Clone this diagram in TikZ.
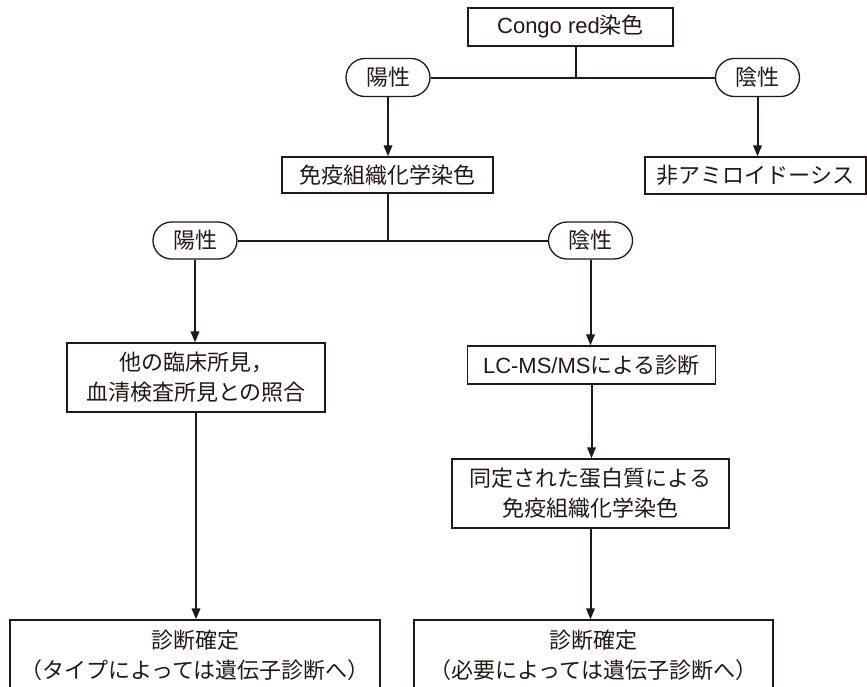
\documentclass[tikz,border=0pt]{standalone}
\usepackage{fontspec}
\setmainfont{Noto Sans CJK JP}
\newfontfamily\lat{Liberation Sans}
\usetikzlibrary{arrows.meta,shapes.misc}
\definecolor{ink}{HTML}{231815}
\begin{document}
\begin{tikzpicture}[x=1pt,y=-1pt,
  every node/.style={font=\fontsize{22}{30}\selectfont, text=ink, inner sep=0pt, align=center},
  box/.style={draw=ink, line width=1.3pt},
  pill/.style={rounded rectangle, draw=ink, line width=1.3pt, minimum width=84pt, minimum height=38pt},
  conn/.style={draw=ink, line width=2pt},
  arr/.style={conn, -{Triangle[length=11pt,width=8.5pt]}}]
\useasboundingbox (0,0) rectangle (867,686);
\fill[white] (0,0) rectangle (867,686);
% row 1
\node[box, minimum width=205pt, minimum height=38pt] (cr) at (570.5,27) {{\lat Congo red}染色};
\node[pill] (pos1) at (388,77.5) {陽性};
\node[pill] (neg1) at (757.5,77.5) {陰性};
\coordinate (j1) at (576,77.5);
% row 2
\node[box, minimum width=211pt, minimum height=36pt] (ifc) at (387.5,175) {免疫組織化学染色};
\node[box, minimum width=221pt, minimum height=37pt] (non) at (755.5,175.5) {非アミロイドーシス};
\coordinate (j2) at (388,240);
\node[pill, minimum height=37pt] (pos2) at (195,240.5) {陽性};
\node[pill, minimum height=37pt] (neg2) at (590.5,240.5) {陰性};
% row 3
\node[box, minimum width=258pt, minimum height=69pt] (oth) at (196,377.5) {他の臨床所見，\\血清検査所見との照合};
\node[box, minimum width=248pt, minimum height=38pt] (lcms) at (591.5,365) {{\lat LC-MS/MS}による診断};
\node[box, minimum width=277pt, minimum height=69pt] (idt) at (590.5,493.5) {同定された蛋白質による\\免疫組織化学染色};
% row 4
\node[box, minimum width=370pt, minimum height=70pt] (d1) at (195,655) {診断確定\\（タイプによっては遺伝子診断へ）};
\node[box, minimum width=359pt, minimum height=70pt] (d2) at (593.5,655) {診断確定\\（必要によっては遺伝子診断へ）};
% connectors
\draw[conn] (cr.south -| j1) -- (j1);
\draw[conn] (pos1.east) -- (neg1.west);
\draw[arr] (pos1.south) -- (pos1.south |- ifc.north);
\draw[arr] (neg1.south) -- (neg1.south |- non.north);
\draw[conn] (ifc.south -| j2) -- (j2);
\draw[conn] (pos2.east) -- (neg2.west);
\draw[arr] (pos2.south) -- (pos2.south |- oth.north);
\draw[arr] (neg2.south) -- (neg2.south |- lcms.north);
\draw[arr] (lcms.south) -- (lcms.south |- idt.north);
\draw[arr] (oth.south) -- (oth.south |- d1.north);
\draw[arr] (idt.south) -- (idt.south |- d2.north);
\end{tikzpicture}
\end{document}
